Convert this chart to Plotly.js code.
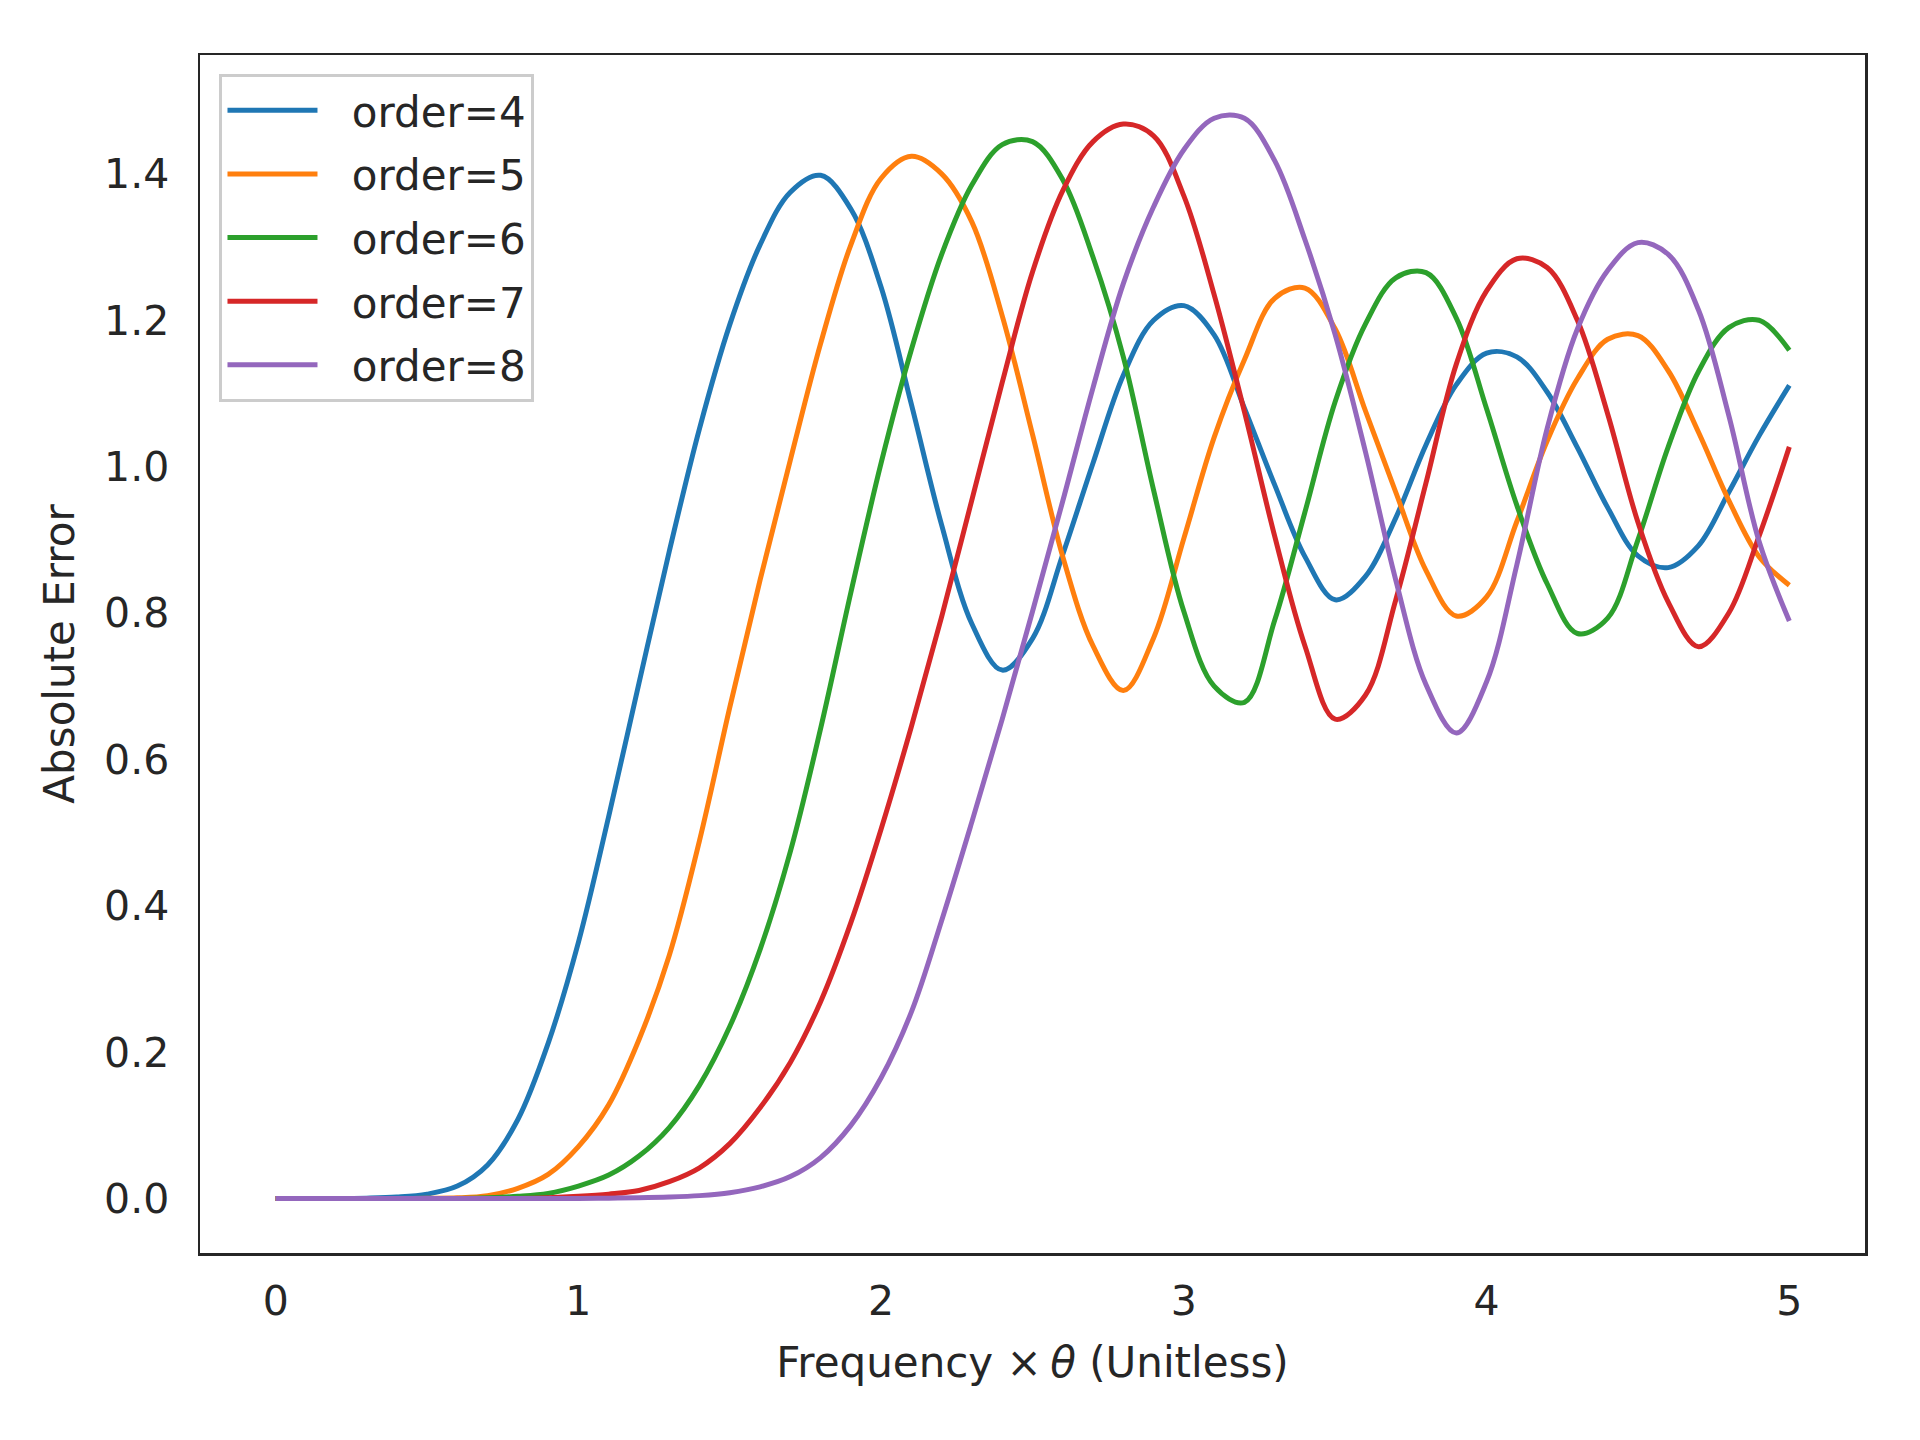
<!DOCTYPE html>
<html>
<head>
<meta charset="utf-8">
<script src="https://cdn.plot.ly/plotly-3.0.1.min.js"></script>
<style>
html, body { margin: 0; padding: 0; background: #ffffff; }
#chart { width: 1920px; height: 1440px; }
</style>
</head>
<body>
<div id="chart"></div>
<script>
// Frequency x theta (unitless)
const freq = [0.0, 0.1, 0.2, 0.3, 0.4, 0.5, 0.6, 0.7, 0.8, 0.9,
              1.0, 1.1, 1.2, 1.3, 1.4, 1.5, 1.6, 1.7, 1.8, 1.9,
              2.0, 2.1, 2.2, 2.3, 2.4, 2.5, 2.6, 2.7, 2.8, 2.9,
              3.0, 3.1, 3.2, 3.3, 3.4, 3.5, 3.6, 3.7, 3.8, 3.9,
              4.0, 4.1, 4.2, 4.3, 4.4, 4.5, 4.6, 4.7, 4.8, 4.9, 5.0];

const order4 = [0, 0, 0, 0.0005, 0.002, 0.006, 0.017, 0.046, 0.108, 0.212,
                0.350, 0.522, 0.704, 0.884, 1.052, 1.194, 1.303, 1.375, 1.398, 1.352,
                1.245, 1.085, 0.920, 0.785, 0.722, 0.765, 0.880, 1.005, 1.125, 1.200,
                1.220, 1.180, 1.080, 0.975, 0.877, 0.818, 0.850, 0.930, 1.030, 1.112,
                1.155, 1.150, 1.102, 1.026, 0.944, 0.878, 0.862, 0.892, 0.965, 1.042, 1.111];

const order5 = [0, 0, 0, 0, 0, 0.0005, 0.001, 0.004, 0.014, 0.033,
                0.071, 0.128, 0.217, 0.332, 0.489, 0.671, 0.845, 1.009, 1.168, 1.303,
                1.394, 1.424, 1.400, 1.334, 1.206, 1.044, 0.877, 0.755, 0.694, 0.766,
                0.902, 1.040, 1.146, 1.230, 1.244, 1.188, 1.076, 0.965, 0.858, 0.796,
                0.822, 0.925, 1.035, 1.120, 1.174, 1.179, 1.131, 1.047, 0.954, 0.877, 0.838];

const order6 = [0, 0, 0, 0, 0, 0, 0, 0.001, 0.003, 0.007,
                0.017, 0.032, 0.058, 0.097, 0.155, 0.235, 0.340, 0.474, 0.642, 0.828,
                1.005, 1.160, 1.290, 1.385, 1.440, 1.444, 1.392, 1.286, 1.150, 0.968,
                0.802, 0.700, 0.678, 0.790, 0.938, 1.089, 1.195, 1.258, 1.265, 1.203,
                1.079, 0.947, 0.840, 0.772, 0.793, 0.900, 1.027, 1.130, 1.190, 1.200, 1.159];

const order7 = [0, 0, 0, 0, 0, 0, 0, 0, 0, 0.001,
                0.003, 0.006, 0.011, 0.023, 0.042, 0.075, 0.124, 0.186, 0.269, 0.377,
                0.505, 0.645, 0.795, 0.955, 1.115, 1.266, 1.377, 1.444, 1.468, 1.452,
                1.370, 1.235, 1.075, 0.905, 0.755, 0.655, 0.688, 0.818, 0.978, 1.140,
                1.240, 1.284, 1.272, 1.200, 1.072, 0.924, 0.815, 0.754, 0.800, 0.905, 1.027];

const order8 = [0, 0, 0, 0, 0, 0, 0, 0, 0, 0,
                0, 0.0005, 0.001, 0.002, 0.004, 0.008, 0.016, 0.030, 0.056, 0.100,
                0.165, 0.255, 0.380, 0.515, 0.655, 0.802, 0.953, 1.108, 1.250, 1.355,
                1.433, 1.476, 1.476, 1.418, 1.310, 1.180, 1.020, 0.845, 0.702, 0.636,
                0.706, 0.866, 1.052, 1.188, 1.268, 1.306, 1.290, 1.214, 1.070, 0.898, 0.789];

const seriesNames = ['order=4', 'order=5', 'order=6', 'order=7', 'order=8'];
const seriesColors = ['#1f77b4', '#ff7f0e', '#2ca02c', '#d62728', '#9467bd'];
const xTickVals = [0, 1, 2, 3, 4, 5];
const yTickVals = [0.0, 0.2, 0.4, 0.6, 0.8, 1.0, 1.2, 1.4];

const seriesValues = [order4, order5, order6, order7, order8];

// small visual gap between legend line sample and its label
const legendPad = '\u2002\u2009';

const traces = seriesValues.map((vals, i) => ({
  x: freq,
  y: vals,
  type: 'scatter',
  mode: 'lines',
  name: legendPad + seriesNames[i],
  legendgroup: 'g' + i,
  line: { color: seriesColors[i], width: 5, shape: 'spline', smoothing: 1 },
  hoverinfo: 'x+y'
}));

const textColor = '#262626';

const layout = {
  width: 1920,
  height: 1440,
  margin: { l: 200, r: 55, t: 55, b: 187 },
  paper_bgcolor: '#ffffff',
  plot_bgcolor: '#ffffff',
  font: { family: 'DejaVu Sans, sans-serif', size: 42, color: textColor },
  showlegend: true,
  xaxis: {
    range: [-0.25, 5.25],
    tickvals: xTickVals,
    ticktext: xTickVals.map(v => String(v)),
    showgrid: false,
    zeroline: false,
    showline: true,
    mirror: true,
    linecolor: textColor,
    linewidth: 2.5,
    ticks: '',
    ticklabelstandoff: 10,
    tickfont: { size: 41, color: textColor },
    title: { text: 'Frequency \u00d7\u2009<i>\u03b8</i> (Unitless)', font: { size: 42, color: textColor }, standoff: 24 }
  },
  yaxis: {
    range: [-0.0744, 1.5624],
    tickvals: yTickVals,
    ticktext: yTickVals.map(v => v.toFixed(1)),
    showgrid: false,
    zeroline: false,
    showline: true,
    mirror: true,
    linecolor: textColor,
    linewidth: 2.5,
    ticks: '',
    ticklabelstandoff: 20,
    tickfont: { size: 41, color: textColor },
    title: { text: 'Absolute Error', font: { size: 42, color: textColor }, standoff: 17 }
  },
  legend: {
    x: 0.0117,
    y: 0.9845,
    xanchor: 'left',
    yanchor: 'top',
    bgcolor: 'rgba(255,255,255,0.8)',
    bordercolor: '#cccccc',
    borderwidth: 3,
    font: { size: 42, color: textColor },
    tracegroupgap: 6,
    itemwidth: 90
  }
};

Plotly.newPlot('chart', traces, layout, { displayModeBar: false, staticPlot: true });
</script>
</body>
</html>
